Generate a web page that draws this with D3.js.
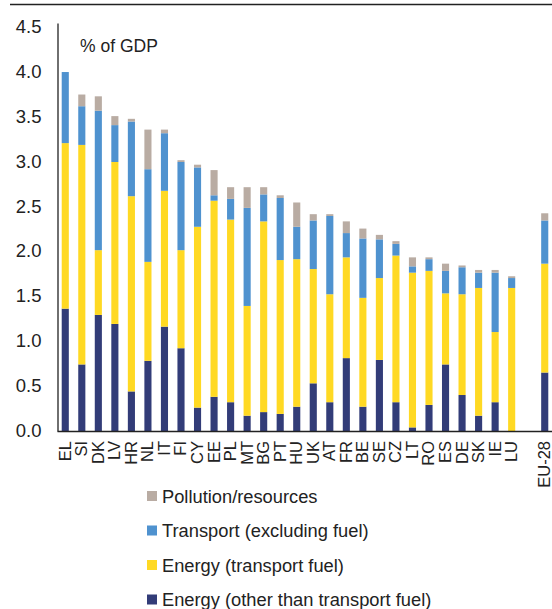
<!DOCTYPE html>
<html>
<head>
<meta charset="utf-8">
<script src="https://cdn.jsdelivr.net/npm/d3@7"></script>
<style>
  body { margin: 0; background: #fff; }
  svg text { font-family: "Liberation Sans", Arial, sans-serif; fill: #222; }
</style>
</head>
<body>
<div class="chart"></div>
<script>
// data (% of GDP)
var countries = ['EL','SI','DK','LV','HR','NL','IT','FI','CY','EE','PL','MT','BG','PT','HU','UK','AT','FR','BE','SE','CZ','LT','RO','ES','DE','SK','IE','LU','','EU-28'];
var energyOther =     [1.36,0.74,1.29,1.19,0.44,0.78,1.16,0.92,0.26,0.38,0.32,0.17,0.21,0.19,0.27,0.53,0.32,0.81,0.27,0.79,0.32,0.04,0.29,0.74,0.40,0.17,0.32,0.00,0,0.65];
var energyTransport = [1.84,2.44,0.72,1.80,2.17,1.10,1.51,1.09,2.01,2.18,2.03,1.22,2.12,1.71,1.64,1.27,1.20,1.12,1.21,0.91,1.63,1.72,1.49,0.79,1.12,1.42,0.78,1.59,0,1.21];
var transport =       [0.79,0.43,1.55,0.41,0.83,1.03,0.64,0.98,0.66,0.06,0.23,1.09,0.30,0.69,0.36,0.54,0.87,0.27,0.66,0.43,0.13,0.07,0.13,0.25,0.30,0.17,0.66,0.11,0,0.48];
var pollution =       [0.00,0.13,0.16,0.10,0.03,0.44,0.04,0.02,0.03,0.28,0.13,0.23,0.08,0.03,0.27,0.07,0.02,0.13,0.11,0.05,0.03,0.10,0.02,0.08,0.02,0.03,0.03,0.02,0,0.08];
var yTicks = [0, 0.5, 1, 1.5, 2, 2.5, 3, 3.5, 4, 4.5];

var seriesKeys = ['other', 'tfuel', 'transport', 'pollution'];
var seriesNames = ['Energy (other than transport fuel)', 'Energy (transport fuel)', 'Transport (excluding fuel)', 'Pollution/resources'];
var colors = ['#323c78', '#ffd923', '#4f92cf', '#b9aca3'];

var svgWidth = 552;
var svgHeight = 609;

// keys must be unique for the band scale, the gap gets its own key
var rows = countries.map(function(c, i) {
	return {
		key: c === '' ? 'gap' : c,
		label: c,
		other: energyOther[i],
		tfuel: energyTransport[i],
		transport: transport[i],
		pollution: pollution[i]
	};
});

var svg = d3.select('.chart')
	.append('svg')
	.attr('width', svgWidth)
	.attr('height', svgHeight);

var xScale = d3.scaleBand()
	.domain(rows.map(function(d) { return d.key; }))
	.range([57, 553])
	.paddingInner(0.57)
	.paddingOuter(0.285);

var yScale = d3.scaleLinear()
	.domain([0, 4.535])
	.range([431, 23]);

// top rule
svg.append('line')
	.attr('x1', 10).attr('x2', svgWidth)
	.attr('y1', 4.5).attr('y2', 4.5)
	.attr('stroke', '#222')
	.attr('stroke-width', 1.3);

var stack = d3.stack().keys(seriesKeys);
var layers = stack(rows);

svg.append('g')
	.selectAll('g')
	.data(layers)
	.enter()
	.append('g')
	.attr('fill', function(d, i) { return colors[i]; })
	.selectAll('rect')
	.data(function(d) { return d; })
	.enter()
	.append('rect')
	.attr('x', function(d) { return xScale(d.data.key); })
	.attr('width', xScale.bandwidth())
	.attr('y', function(d) { return yScale(d[1]); })
	.attr('height', function(d) { return yScale(d[0]) - yScale(d[1]); });

// y axis
var leftAxis = d3.axisLeft(yScale)
	.tickValues(yTicks)
	.tickSize(0)
	.tickPadding(16)
	.tickFormat(d3.format('.1f'));

var yAxis = svg.append('g')
	.attr('transform', 'translate(57.5,0)')
	.call(leftAxis);
yAxis.select('.domain').attr('stroke', '#222').attr('stroke-width', 1.3);
yAxis.selectAll('text')
	.style('font-size', '18.5px')
	.attr('fill', '#222');

// x axis
var bottomAxis = d3.axisBottom(xScale)
	.tickSize(0)
	.tickFormat(function(k) { return k === 'gap' ? '' : k; });

var xAxis = svg.append('g')
	.attr('transform', 'translate(0,431)')
	.call(bottomAxis);
xAxis.select('.domain').attr('stroke', '#222').attr('stroke-width', 1.6);
xAxis.selectAll('text')
	.style('font-size', '16.5px')
	.attr('fill', '#222')
	.attr('text-anchor', 'end')
	.attr('transform', 'rotate(-90)')
	.attr('x', -10)
	.attr('y', 0)
	.attr('dy', '0.33em');

// unit label
svg.append('text')
	.attr('x', 80)
	.attr('y', 52)
	.style('font-size', '17.5px')
	.text('% of GDP');

// legend, top to bottom
var legendOrder = [3, 2, 1, 0];
var legend = svg.append('g')
	.selectAll('g')
	.data(legendOrder)
	.enter()
	.append('g')
	.attr('transform', function(d, i) { return 'translate(147,' + (491 + i * 34.5) + ')'; });

legend.append('rect')
	.attr('width', 10)
	.attr('height', 10)
	.attr('fill', function(d) { return colors[d]; });

legend.append('text')
	.attr('x', 15)
	.attr('y', 5)
	.attr('dy', '0.36em')
	.style('font-size', '18.3px')
	.text(function(d) { return seriesNames[d]; });
</script>
</body>
</html>
